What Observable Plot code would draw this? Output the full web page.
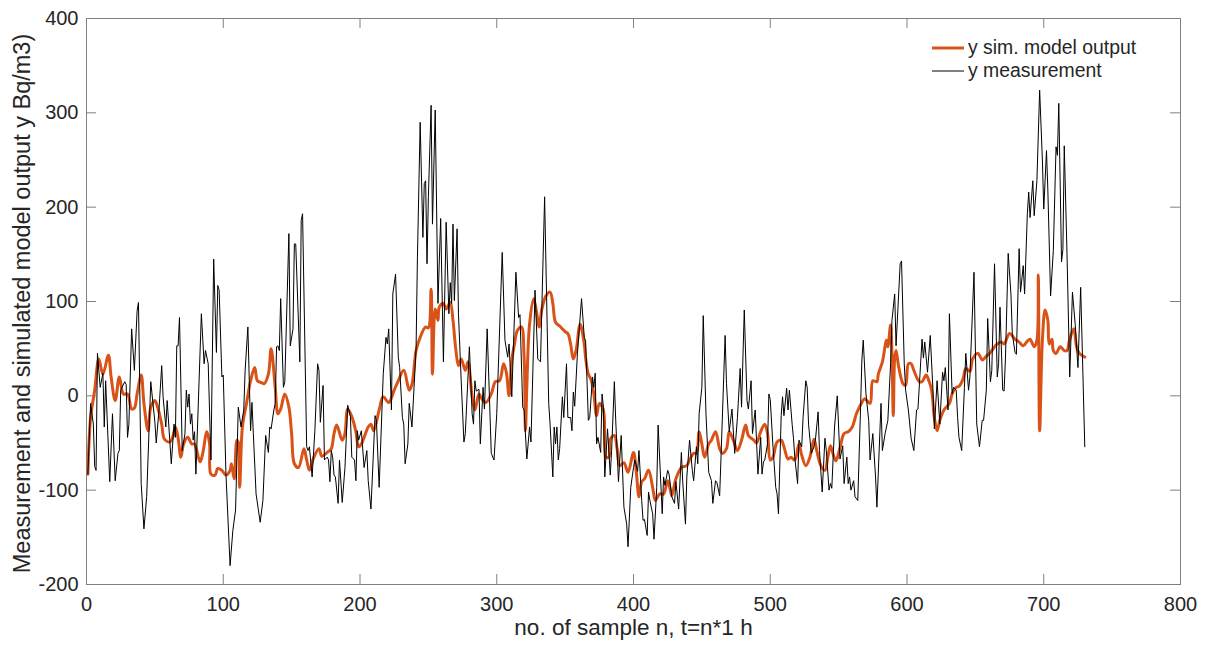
<!DOCTYPE html>
<html>
<head>
<meta charset="utf-8">
<script src="https://cdn.jsdelivr.net/npm/d3@7"></script>
<script src="https://cdn.jsdelivr.net/npm/@observablehq/plot@0.6"></script>
<style>
  html, body { margin: 0; padding: 0; background: #fff; }
  #wrap { position: relative; width: 1206px; height: 653px; font-family: "Liberation Sans", Arial, sans-serif; }
  #legend { position: absolute; left: 932px; top: 36px; font-size: 19.4px; color: #262626; line-height: 23px; }
  #legend .row { display: flex; align-items: center; height: 23px; }
  #legend .sw { width: 32px; margin-right: 4px; }
</style>
</head>
<body>
<div id="wrap"></div>
<script>
// ---- data ----
const xTicks = [0, 100, 200, 300, 400, 500, 600, 700, 800];
const yTicks = [-200, -100, 0, 100, 200, 300, 400];
const xLabel = "no. of sample n, t=n*1 h";
const yLabel = "Measurement and simulated model output y Bq/m3)";
const seriesNames = ["y sim. model output", "y measurement"];

const measN = [1,3,5,6,7,8,10,12,13,14,17,19,21,23,24,25,28,29,30,31,33,35,37,38,40,42,44,47,50,51,53,55,56,58,59,62,64,65,66,67,68,
70,72,73,74,75,76,77,78,79,80,84,86,87,89,91,93,95,96,97,99,100,102,105,107,109,111,113,115,116,118,120,121,122,124,127,129,131,133,
134,135,137,138,139,140,141,142,144,145,148,149,151,152,153,156,157,158,161,162,163,165,167,169,170,171,173,174,176,177,178,179,180,181,182,184,185,187,189,191,193,194,196,197,198,199,
201,203,205,206,208,211,212,214,217,219,220,221,223,224,226,228,229,231,232,233,235,236,238,241,242,244,246,247,248,249,250,252,253,255,257,259,261,263,265,266,267,268,269,
271,272,274,276,277,280,282,283,284,285,287,288,290,291,293,296,298,300,304,306,308,309,311,314,316,317,319,320,322,324,325,328,330,332,335,
338,339,341,342,343,344,345,346,348,349,351,352,354,355,356,357,359,362,364,365,367,368,370,371,372,373,374,376,377,378,379,381,383,384,386,387,389,391,393,395,396,398,400,401,
403,404,406,407,408,410,411,412,414,415,417,418,421,422,423,425,426,428,430,431,433,435,436,438,439,441,443,444,446,447,448,450,451,453,455,457,458,460,461,463,464,467,468,470,472,
474,476,478,479,481,483,484,486,487,489,491,493,494,495,496,498,499,500,502,504,505,506,508,509,510,512,513,514,516,517,518,520,521,523,524,526,527,528,530,532,533,535,536,538,540,
541,543,544,545,547,549,551,553,554,556,557,558,559,561,562,564,566,567,568,570,572,573,575,577,578,581,582,584,586,588,589,591,592,595,596,598,599,601,603,605,607,608,
611,612,613,615,617,619,620,622,624,626,627,628,630,631,633,634,636,637,638,640,642,643,645,646,649,651,653,655,656,658,659,661,662,664,666,667,668,670,671,672,
674,676,677,679,680,682,683,685,686,688,689,690,692,693,695,697,699,700,702,703,705,707,709,710,711,713,714,715,717,719,721,723,725,727,730];
const measY = [-83,-8,-30,-75,-79,45,9,24,-33,16,-91,-19,-90,-61,-58,6,15,12,-44,-30,71,27,90,99,-93,-141,-107,15,-28,-50,-15,32,-1,-33,-5,-72,-30,-44,53,53,83,
-58,-40,6,-12,2,-30,-19,-47,-38,-83,87,34,48,34,-68,145,46,117,112,20,22,-84,-180,-143,-121,-12,-33,-15,27,73,-37,-7,-40,-104,-134,-111,-42,-60,
-33,-35,-15,-8,52,53,48,103,9,15,172,53,71,161,161,36,186,193,-54,-58,-54,-86,-37,34,27,-28,11,-68,-65,-68,-91,-58,-65,-84,-86,-114,-68,-113,-76,-10,-22,-65,-68,-90,-37,-47,
-37,-76,-58,-90,-120,-21,-26,-97,23,62,55,71,-15,108,129,41,30,-23,-30,-72,-51,-8,-33,50,147,290,168,225,228,140,211,308,182,303,98,188,36,184,87,120,98,182,101,
177,87,16,-49,-40,52,-19,-30,16,5,7,-51,9,-14,71,-61,-68,-19,152,59,41,55,-1,131,83,86,-12,-15,-67,-33,-49,112,39,36,211,
-8,-30,-86,-33,-51,-33,-68,-56,-1,-23,34,-23,-23,-37,4,-11,45,103,62,58,-26,-23,20,9,24,-51,-44,-60,2,-12,-86,-35,-84,-58,15,-26,-91,-42,-118,-136,-160,-97,-76,-68,
-80,-58,-111,-132,-131,-148,-102,-111,-125,-152,-97,-31,-125,-86,-95,-79,-83,-107,-114,-91,-120,-60,-91,-136,-86,-47,-79,-90,-54,-72,-19,9,85,-19,-81,-90,-114,-90,-92,-106,-65,64,13,-38,-14,
-61,-23,29,-12,91,-5,-14,16,-40,-15,-83,-44,-83,-70,-68,-51,2,-4,-54,-97,-104,-125,-21,-1,-21,8,-15,6,-30,-45,-66,-93,-47,-54,-23,16,9,-30,-61,-54,-47,-17,-58,-102,-45,
-58,-100,-93,-98,-33,0,-67,-53,-93,-65,-93,-86,-100,-90,-107,-111,-15,38,59,2,-26,-68,-40,-86,-118,-8,-58,-40,-26,34,80,108,53,140,143,34,6,-15,-45,-58,-15,-14,
60,40,57,25,64,6,-35,16,-30,25,16,30,-15,87,2,9,6,-23,-44,-58,9,45,6,20,131,-30,-54,-26,-26,6,82,15,27,140,20,34,94,6,5,40,
151,108,66,46,44,156,110,138,108,193,216,189,228,191,228,324,250,198,260,218,106,154,264,255,310,142,155,265,151,20,110,76,30,115,-54];

// simulated model output: sample index and value
const simN = [1,3,6,9,12,16,18,21,24,27,30,33,35,37,40,42,45,47,50,52,55,57,61,63,65,67,69,71,74,77,79,83,85,88,90,91,94,96,99,102,105,106,108,110,111,112,114,117,120,123,125,128,130,133,135,138,140,142,145,148,150,152,155,159,161,163,166,170,172,176,179,181,183,187,189,191,194,197,199,
201,203,206,208,210,214,217,221,225,228,232,236,238,241,244,248,250,252,253,255,257,258,261,263,266,268,270,272,274,277,279,282,284,287,289,292,296,299,302,305,307,309,311,313,315,318,320,321,322,324,327,329,331,333,336,339,341,343,346,348,350,352,354,356,358,361,364,365,367,369,371,373,375,378,380,382,383,386,388,390,393,396,400,
402,404,406,408,411,414,416,419,422,425,427,428,431,435,439,441,444,446,448,450,452,455,457,460,463,465,468,470,473,476,479,482,484,488,490,493,496,498,500,502,505,508,510,513,515,518,521,523,526,529,532,534,537,540,542,544,546,548,551,554,557,560,563,567,569,573,575,578,579,582,585,586,588,589,590,591,592,594,597,599,
601,603,605,609,611,614,616,618,620,622,624,627,631,633,636,638,641,643,646,648,652,655,658,661,664,666,669,671,675,679,682,685,688,690,693,695,696,697,699,701,703,704,706,707,709,712,715,717,719,722,724,726,730];
const simY = [-83,-23,6,39,23,43,20,-5,20,2,2,-14,-13,2,22,-8,-37,-12,-5,-12,-30,-46,-49,-44,-33,-45,-65,-51,-44,-51,-51,-70,-61,-38,-51,-83,-84,-77,-79,-84,-79,-72,-88,-47,-49,-97,-33,-8,16,30,16,14,13,23,50,9,-19,-14,2,-12,-40,-72,-76,-56,-68,-79,-66,-56,-64,-60,-56,-40,-31,-47,-40,-14,-22,-38,-54,
-51,-44,-33,-30,-37,-15,-1,-7,6,16,27,6,12,48,62,73,72,113,23,92,80,94,98,92,99,80,50,32,39,27,36,-1,-15,2,-3,-7,2,15,16,34,25,0,38,55,69,73,41,-37,10,76,103,90,73,92,106,110,98,78,74,71,68,66,55,39,48,76,55,40,23,17,2,-21,-8,-15,-65,-65,-46,-42,-56,-74,-71,-81,-60,
-80,-107,-91,-88,-79,-97,-111,-104,-104,-90,-100,-106,-88,-76,-74,-68,-61,-61,-38,-51,-65,-51,-47,-38,-56,-61,-56,-38,-47,-58,-47,-31,-42,-47,-50,-38,-30,-40,-68,-65,-49,-47,-54,-67,-65,-68,-51,-63,-74,-65,-46,-58,-74,-79,-66,-53,-62,-69,-55,-40,-38,-33,-19,-7,-3,-8,16,15,23,36,59,52,75,45,-21,40,48,30,13,11,
34,34,27,15,15,22,16,6,-23,-37,-26,-15,-8,2,9,10,18,29,26,39,45,38,42,46,52,55,57,55,66,60,57,53,58,60,52,59,128,-37,59,91,80,55,60,48,45,52,48,48,60,71,52,45,41];

const meas = measN.map((n, i) => ({n, v: measY[i]}));
const sim = simN.map((n, i) => ({n, v: simY[i]}));

const axisGray = "#808080";
const textCol = "#262626";
const orange = "#D95319";
const fmt = d => String(d);

const chart = Plot.plot({
  width: 1206,
  height: 653,
  marginLeft: 86,
  marginRight: 26,
  marginTop: 18,
  marginBottom: 69,
  style: {fontFamily: "'Liberation Sans', Arial, sans-serif", fontSize: "20px", color: textCol, background: "#fff", overflow: "visible"},
  x: {domain: [0, 800], ticks: xTicks},
  y: {domain: [-200, 400], ticks: yTicks},
  marks: [
    Plot.axisX({ticks: xTicks, tickSize: 0, tickPadding: 12, label: null, fontSize: 20, fill: textCol, tickFormat: fmt}),
    Plot.axisY({ticks: yTicks, tickSize: 0, tickPadding: 8, label: null, fontSize: 20, fill: textCol, tickFormat: fmt}),
    Plot.tickX(xTicks, {x: d => d, insetTop: 556, stroke: axisGray}),
    Plot.tickX(xTicks, {x: d => d, insetBottom: 556, stroke: axisGray}),
    Plot.tickY(yTicks, {y: d => d, insetRight: 1084, stroke: axisGray}),
    Plot.tickY(yTicks, {y: d => d, insetLeft: 1084, stroke: axisGray}),
    Plot.line(sim, {x: "n", y: "v", stroke: orange, strokeWidth: 3, strokeLinejoin: "round", curve: "catmull-rom"}),
    Plot.line(meas, {x: "n", y: "v", stroke: "#000", strokeWidth: 1, strokeLinejoin: "round"}),
    Plot.frame({stroke: axisGray}),
    Plot.text([xLabel], {text: d => d, frameAnchor: "bottom", textAnchor: "middle", dy: 50, fontSize: 22.5, fill: textCol}),
    Plot.text([yLabel], {text: d => d, frameAnchor: "left", textAnchor: "middle", dx: -64, dy: 2, rotate: -90, fontSize: 23.5, fill: textCol})
  ]
});

const wrap = document.getElementById("wrap");
wrap.appendChild(chart);

// legend (inside the plot area, top right)
const legend = document.createElement("div");
legend.id = "legend";
const sw = [{c: orange, w: 3}, {c: "#000", w: 1}];
seriesNames.forEach((name, i) => {
  const row = document.createElement("div");
  row.className = "row";
  row.innerHTML = `<svg class="sw" width="32" height="10"><line x1="0" x2="32" y1="5" y2="5" stroke="${sw[i].c}" stroke-width="${sw[i].w}"/></svg><span>${name}</span>`;
  legend.appendChild(row);
});
wrap.appendChild(legend);
</script>
</body>
</html>
